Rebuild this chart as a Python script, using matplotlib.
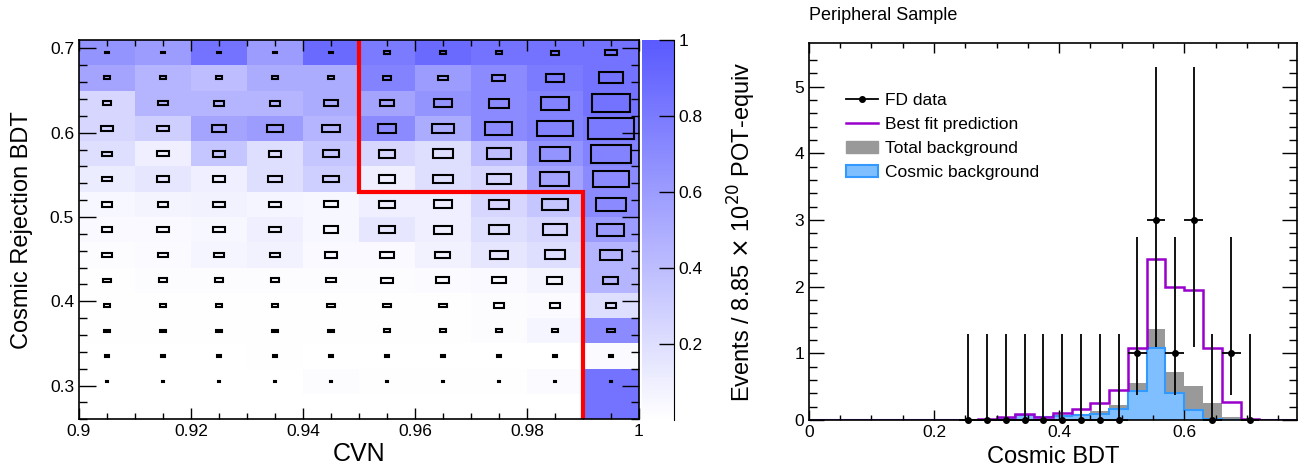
import numpy as np
import matplotlib
matplotlib.use('Agg')
import matplotlib.pyplot as plt
from matplotlib.patches import Rectangle, Patch
from matplotlib.lines import Line2D
from matplotlib.colors import LinearSegmentedColormap

plt.rcParams['font.family'] = ['Liberation Sans', 'DejaVu Sans']

# ---- left panel: CVN vs cosmic rejection BDT ----
cvn_edges = [0.90, 0.91, 0.92, 0.93, 0.94, 0.95, 0.96, 0.97, 0.98, 0.99, 1.00]
bdt_edges = [0.26, 0.29, 0.32, 0.35, 0.38, 0.41, 0.44, 0.47, 0.50, 0.53,
             0.56, 0.59, 0.62, 0.65, 0.68, 0.71]

# colour value per cell, rows listed from top (0.68-0.71) to bottom (0.26-0.29)
cell_color = [
    [0.65, 0.60, 0.85, 0.60, 0.90, 0.80, 0.90, 0.85, 0.85, 0.85],
    [0.55, 0.45, 0.40, 0.50, 0.50, 0.75, 0.60, 0.70, 0.80, 0.85],
    [0.25, 0.45, 0.45, 0.45, 0.50, 0.55, 0.65, 0.70, 0.75, 0.85],
    [0.25, 0.30, 0.55, 0.60, 0.45, 0.70, 0.50, 0.70, 0.75, 0.80],
    [0.20, 0.10, 0.35, 0.20, 0.35, 0.25, 0.20, 0.40, 0.65, 0.75],
    [0.12, 0.15, 0.10, 0.20, 0.30, 0.10, 0.20, 0.25, 0.55, 0.70],
    [0.05, 0.07, 0.08, 0.06, 0.05, 0.10, 0.10, 0.25, 0.35, 0.70],
    [0.04, 0.04, 0.05, 0.10, 0.05, 0.15, 0.10, 0.20, 0.25, 0.60],
    [0.02, 0.03, 0.06, 0.08, 0.04, 0.04, 0.08, 0.15, 0.20, 0.45],
    [0.01, 0.02, 0.02, 0.02, 0.02, 0.02, 0.03, 0.04, 0.07, 0.45],
    [0.01, 0.01, 0.01, 0.01, 0.01, 0.01, 0.01, 0.02, 0.03, 0.20],
    [0.01, 0.01, 0.01, 0.01, 0.01, 0.01, 0.01, 0.02, 0.06, 0.70],
    [0.00, 0.00, 0.00, 0.01, 0.00, 0.00, 0.00, 0.00, 0.00, 0.03],
    [0.00, 0.00, 0.00, 0.00, 0.02, 0.01, 0.01, 0.01, 0.03, 0.85],
    [0.00, 0.00, 0.00, 0.00, 0.00, 0.00, 0.00, 0.00, 0.00, 0.85],
]

# box size (fraction of the cell) per cell, same row order
box_size = [
    [0.06, 0.06, 0.06, 0.06, 0.06, 0.095, 0.095, 0.11, 0.155, 0.20],
    [0.12, 0.12, 0.12, 0.12, 0.12, 0.155, 0.19, 0.23, 0.31, 0.43],
    [0.155, 0.18, 0.19, 0.19, 0.24, 0.26, 0.31, 0.37, 0.51, 0.69],
    [0.20, 0.23, 0.26, 0.29, 0.31, 0.33, 0.39, 0.48, 0.63, 0.81],
    [0.18, 0.20, 0.23, 0.23, 0.27, 0.30, 0.35, 0.42, 0.55, 0.71],
    [0.18, 0.21, 0.23, 0.24, 0.27, 0.30, 0.35, 0.42, 0.52, 0.65],
    [0.17, 0.19, 0.20, 0.20, 0.24, 0.27, 0.32, 0.36, 0.45, 0.54],
    [0.18, 0.20, 0.21, 0.21, 0.25, 0.29, 0.31, 0.35, 0.42, 0.48],
    [0.17, 0.17, 0.19, 0.18, 0.23, 0.25, 0.27, 0.31, 0.36, 0.39],
    [0.13, 0.14, 0.15, 0.15, 0.18, 0.20, 0.23, 0.24, 0.27, 0.27],
    [0.12, 0.12, 0.12, 0.12, 0.13, 0.14, 0.15, 0.17, 0.18, 0.19],
    [0.095, 0.095, 0.095, 0.095, 0.10, 0.11, 0.11, 0.12, 0.12, 0.13],
    [0.07, 0.07, 0.07, 0.07, 0.07, 0.07, 0.07, 0.07, 0.07, 0.07],
    [0.05, 0.05, 0.05, 0.05, 0.05, 0.05, 0.05, 0.05, 0.05, 0.05],
    [0.00, 0.00, 0.00, 0.00, 0.00, 0.00, 0.00, 0.00, 0.00, 0.00],
]

# selection cut contour
cut_x = [0.95, 0.95, 0.99, 0.99]
cut_y = [0.71, 0.53, 0.53, 0.26]

# ---- right panel: cosmic BDT distribution ----
bdt_bins = [0.00, 0.03, 0.06, 0.09, 0.12, 0.15, 0.18, 0.21, 0.24, 0.27,
            0.30, 0.33, 0.36, 0.39, 0.42, 0.45, 0.48, 0.51, 0.54, 0.57,
            0.60, 0.63, 0.66, 0.69, 0.72, 0.75, 0.78]
best_fit = [0.005, 0.005, 0.005, 0.005, 0.005, 0.005, 0.005, 0.005, 0.005, 0.01,
            0.04, 0.085, 0.05, 0.11, 0.165, 0.26, 0.45, 1.08, 2.41, 2.00,
            1.95, 1.08, 0.275, 0.015, 0.0, 0.0]
total_bkg = [0.0, 0.0, 0.0, 0.0, 0.0, 0.0, 0.0, 0.0, 0.0, 0.005,
             0.025, 0.075, 0.05, 0.08, 0.09, 0.14, 0.22, 0.56, 1.36, 0.72,
             0.51, 0.26, 0.04, 0.005, 0.0, 0.0]
cosmic_bkg = [0.0, 0.0, 0.0, 0.0, 0.0, 0.0, 0.0, 0.0, 0.0, 0.0,
              0.02, 0.075, 0.045, 0.06, 0.07, 0.09, 0.17, 0.44, 1.08, 0.40,
              0.15, 0.015, 0.0, 0.0, 0.0, 0.0]

data_x = [0.255, 0.285, 0.315, 0.345, 0.375, 0.405, 0.435, 0.465, 0.495,
          0.525, 0.555, 0.585, 0.615, 0.645, 0.675, 0.705]
data_n = [0, 0, 0, 0, 0, 0, 0, 0, 0, 1, 3, 1, 3, 0, 1, 0]
err_band = {0: (0.0, 1.29), 1: (0.37, 2.75), 3: (1.10, 5.30)}

fig = plt.figure(figsize=(13.01, 4.66), dpi=100)

# ---------- left ----------
ax = fig.add_axes([0.0607, 0.1002, 0.4304, 0.814])
cmap = LinearSegmentedColormap.from_list('wb', ['#ffffff', '#5a5aff'])
C = np.array(cell_color)[::-1]
S = np.array(box_size)[::-1]
mesh = ax.pcolormesh(cvn_edges, bdt_edges, C, cmap=cmap, vmin=0, vmax=1)

for i in range(len(bdt_edges) - 1):
    for j in range(len(cvn_edges) - 1):
        f = S[i, j]
        if f <= 0:
            continue
        w = f * (cvn_edges[j + 1] - cvn_edges[j])
        h = f * (bdt_edges[i + 1] - bdt_edges[i])
        xc = 0.5 * (cvn_edges[j] + cvn_edges[j + 1])
        yc = 0.5 * (bdt_edges[i] + bdt_edges[i + 1])
        ax.add_patch(Rectangle((xc - w / 2, yc - h / 2), w, h, fill=False,
                               edgecolor='black', lw=1.5))

ax.plot(cut_x, cut_y, color='red', lw=3, solid_joinstyle='miter')
ax.set_xlim(0.9, 1.0)
ax.set_ylim(0.26, 0.71)
ax.set_xticks([0.9, 0.92, 0.94, 0.96, 0.98, 1.0])
ax.set_xticklabels(['0.9', '0.92', '0.94', '0.96', '0.98', '1'])
ax.set_xticks(np.arange(0.9, 1.0001, 0.005), minor=True)
ax.set_yticks([0.3, 0.4, 0.5, 0.6, 0.7])
ax.set_yticks(np.arange(0.26, 0.7101, 0.02), minor=True)
ax.tick_params(which='both', direction='in', top=True, right=True, labelsize=12.5, width=1)
ax.tick_params(axis='y', which='major', length=12)
ax.tick_params(axis='y', which='minor', length=6)
ax.tick_params(axis='x', which='major', length=8)
ax.tick_params(axis='x', which='minor', length=4)
ax.set_xlabel('CVN', fontsize=18)
ax.set_ylabel('Cosmic Rejection BDT', fontsize=17)
ax.xaxis.set_label_coords(0.5, -0.06)
ax.yaxis.set_label_coords(-0.082, 0.5)
for s in ax.spines.values():
    s.set_linewidth(1.2)

cax = fig.add_axes([0.4935, 0.0987, 0.0245, 0.8155])
cb = fig.colorbar(mesh, cax=cax)
cb.outline.set_visible(False)
cax.spines['right'].set_visible(True)
cax.set_yticks([0.2, 0.4, 0.6, 0.8, 1.0])
cax.set_yticklabels(['0.2', '0.4', '0.6', '0.8', '1'])
cax.tick_params(direction='in', length=11, labelsize=12.5, width=1)

# ---------- right ----------
ax2 = fig.add_axes([0.6217, 0.0987, 0.3751, 0.8097])
ax2.stairs(total_bkg, bdt_bins, fill=True, color='#999999', lw=0)
ax2.stairs(cosmic_bkg, bdt_bins, fill=True, facecolor='#7fbfff',
           edgecolor='#3399ff', lw=1.5)
ax2.stairs(best_fit, bdt_bins, color='#9900cc', lw=1.8)

lo = [n - err_band[n][0] for n in data_n]
hi = [err_band[n][1] - n for n in data_n]
ax2.errorbar(data_x, data_n, yerr=[lo, hi], xerr=0.015, fmt='o', color='black',
             ms=4, elinewidth=1.3, capsize=0, clip_on=False, zorder=5)

ax2.set_xlim(0, 0.78)
ax2.set_ylim(0, 5.66)
ax2.set_xticks([0, 0.2, 0.4, 0.6])
ax2.set_xticklabels(['0', '0.2', '0.4', '0.6'])
ax2.set_xticks(np.arange(0, 0.78, 0.05), minor=True)
ax2.set_yticks([0, 1, 2, 3, 4, 5])
ax2.set_yticks(np.arange(0, 5.6, 0.2), minor=True)
ax2.tick_params(which='both', direction='in', top=True, right=True, labelsize=12.5, width=1)
ax2.tick_params(axis='y', which='major', length=11)
ax2.tick_params(axis='y', which='minor', length=5.5)
ax2.tick_params(axis='x', which='major', length=7)
ax2.tick_params(axis='x', which='minor', length=3.5)
ax2.set_xlabel('Cosmic BDT', fontsize=17)
ax2.set_ylabel(r'Events / 8.85 $\times$ 10$^{20}$ POT-equiv', fontsize=17)
ax2.xaxis.set_label_coords(0.5, -0.068)
ax2.yaxis.set_label_coords(-0.104, 0.5)
ax2.set_title('Peripheral Sample', fontsize=13, loc='left', pad=16)
for s in ax2.spines.values():
    s.set_linewidth(1.2)

h_data = Line2D([0], [0], color='black', marker='o', ms=4, lw=1.3)
h_fit = Line2D([0], [0], color='#9900cc', lw=1.8)
h_tot = Patch(facecolor='#999999', edgecolor='#999999')
h_cos = Patch(facecolor='#7fbfff', edgecolor='#3399ff', lw=1.5)
ax2.legend([h_data, h_fit, h_tot, h_cos],
           ['FD data', 'Best fit prediction', 'Total background', 'Cosmic background'],
           loc='upper left', bbox_to_anchor=(0.076, 0.866), frameon=False,
           fontsize=12.5, handlelength=1.85, handletextpad=0.4, labelspacing=0.5,
           borderpad=0, borderaxespad=0)

fig.savefig('out.png', dpi=100)
